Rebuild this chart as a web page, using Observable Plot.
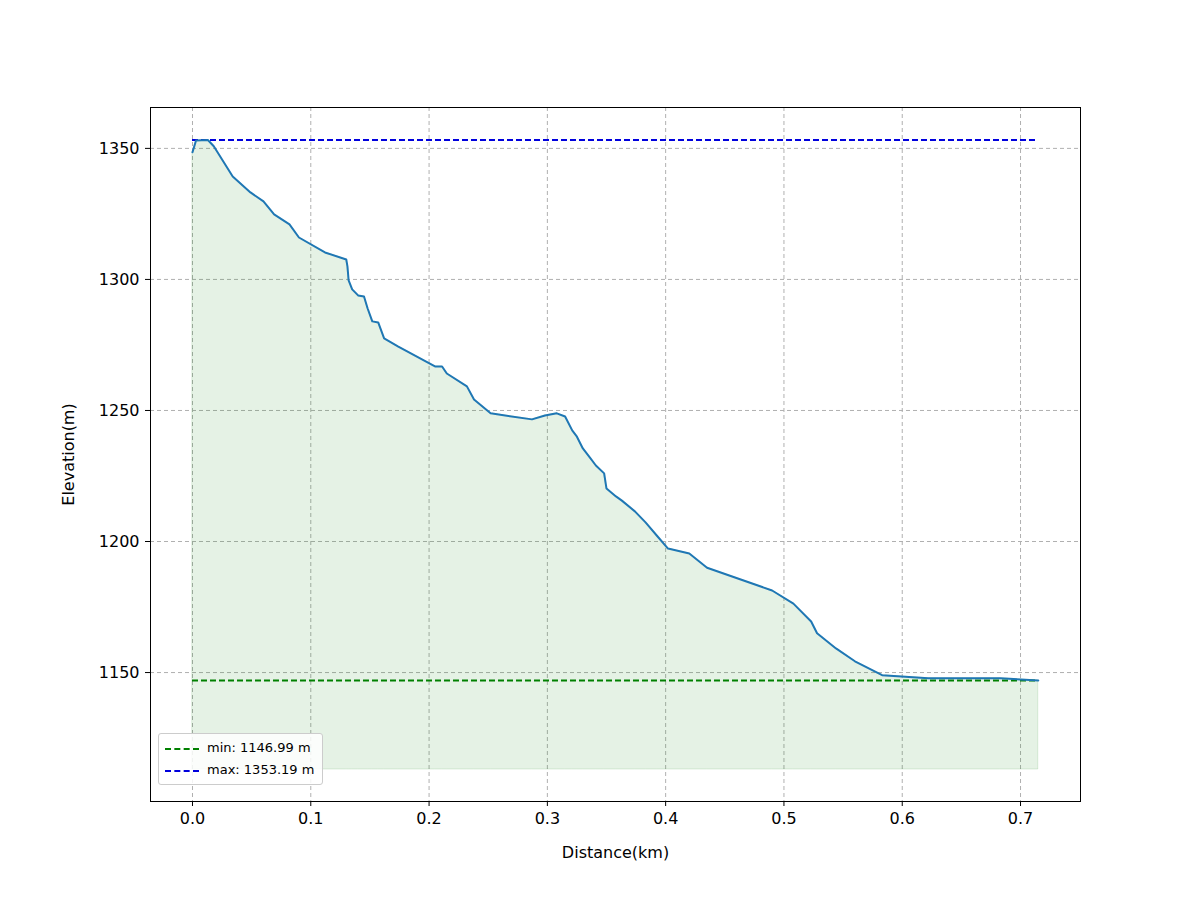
<!DOCTYPE html>
<html>
<head>
<meta charset="utf-8">
<script src="https://cdn.jsdelivr.net/npm/d3@7"></script>
<script src="https://cdn.jsdelivr.net/npm/@observablehq/plot@0.6"></script>
<style>
  body { margin: 0; background: #fff; font-family: "DejaVu Sans", sans-serif; }
  #wrap { position: relative; width: 1200px; height: 900px; }
  #legend { position: absolute; left: 158px; top: 733px; background: rgba(255,255,255,0.85);
    border: 1px solid #ccc; border-radius: 3px; padding: 3px 8px 3px 6px; font-size: 13px; line-height: 22px; }
  #legend span.l { display: inline-block; width: 34px; height: 0; vertical-align: middle; margin-right: 8px; border-top: 2px dashed; }
</style>
</head>
<body>
<div id="wrap">
  <div id="chart"></div>
  <div id="legend">
    <div><span class="l" style="border-color:green"></span>min: 1146.99 m</div>
    <div><span class="l" style="border-color:#0000dd"></span>max: 1353.19 m</div>
  </div>
</div>
<script>
const distance = [0, 0.003, 0.013, 0.018, 0.034, 0.049, 0.060, 0.069, 0.082, 0.090, 0.112, 0.130, 0.131, 0.132,
  0.135, 0.140, 0.145, 0.148, 0.152, 0.157, 0.162, 0.174, 0.205, 0.211, 0.215, 0.232, 0.238, 0.252, 0.287, 0.298,
  0.308, 0.315, 0.321, 0.325, 0.330, 0.336, 0.341, 0.348, 0.350, 0.358, 0.363, 0.374, 0.383, 0.393, 0.402, 0.420,
  0.435, 0.490, 0.508, 0.523, 0.528, 0.544, 0.560, 0.583, 0.622, 0.683, 0.715];
const elevation = [1348.5, 1353, 1353.2, 1350.8, 1339.3, 1333.2, 1329.8, 1324.8, 1321, 1316, 1310.3, 1307.6, 1305, 1299.6,
  1296.2, 1293.9, 1293.5, 1289, 1284, 1283.6, 1277.5, 1274.4, 1266.8, 1266.8, 1264.1, 1259.2, 1254.2, 1248.9, 1246.6, 1248.1,
  1248.9, 1247.7, 1242.4, 1240, 1235.5, 1232, 1229, 1226, 1220.2, 1217.2, 1215.6, 1211.5, 1207.3, 1202, 1197.3, 1195.4,
  1190, 1181.3, 1176.3, 1169.5, 1165, 1159.2, 1154.3, 1149, 1147.8, 1147.8, 1147];
const minElev = 1146.99;
const maxElev = 1353.19;
const fillBase = 1113;
const xTicks = [0, 0.1, 0.2, 0.3, 0.4, 0.5, 0.6, 0.7];
const yTicks = [1150, 1200, 1250, 1300, 1350];

const data = distance.map((d, i) => ({d, e: elevation[i]}));
const xEnd = distance[distance.length - 1];

const chart = Plot.plot({
  width: 1200, height: 900,
  marginLeft: 150, marginRight: 120, marginTop: 107, marginBottom: 99,
  style: {fontSize: "16px", fontFamily: "DejaVu Sans, sans-serif", color: "#000"},
  x: {domain: [-0.0355, 0.7507]},
  y: {domain: [1100.8, 1365.6]},
  marks: [
    Plot.gridX(xTicks, {stroke: "#b0b0b0", strokeOpacity: 1, strokeDasharray: "4,3"}),
    Plot.gridY(yTicks, {stroke: "#b0b0b0", strokeOpacity: 1, strokeDasharray: "4,3"}),
    Plot.areaY(data, {x: "d", y1: fillBase, y2: "e", fill: "green", fillOpacity: 0.1, stroke: "green", strokeOpacity: 0.12}),
    Plot.ruleY([minElev], {x1: 0, x2: xEnd, stroke: "green", strokeWidth: 2, strokeDasharray: "6,3"}),
    Plot.ruleY([maxElev], {x1: 0, x2: xEnd, stroke: "#0000dd", strokeWidth: 2, strokeDasharray: "6,3"}),
    Plot.line(data, {x: "d", y: "e", stroke: "#1f77b4", strokeWidth: 2}),
    Plot.axisX(xTicks, {tickFormat: d3.format(".1f"), tickSize: 5, tickPadding: 6, fontSize: 16,
      label: "Distance(km)", labelAnchor: "center", labelOffset: 56, labelArrow: "none"}),
    Plot.axisY(yTicks, {tickFormat: d => String(d), tickSize: 5, tickPadding: 6, fontSize: 16,
      label: "Elevation(m)", labelAnchor: "center", labelOffset: 88, labelArrow: "none"}),
    Plot.frame({stroke: "#000"})
  ]
});
document.getElementById("chart").append(chart);
</script>
</body>
</html>
